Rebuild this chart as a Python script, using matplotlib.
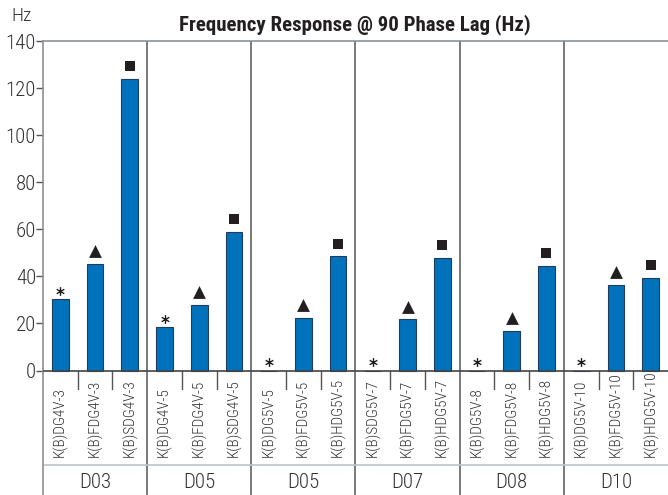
import matplotlib
matplotlib.use('Agg')
import matplotlib.pyplot as plt
import numpy as np
from matplotlib.path import Path
from matplotlib import font_manager as fm

# pick a condensed sans if one is available
installed = {f.name for f in fm.fontManager.ttflist}
narrow = [n for n in ['Roboto Condensed', 'Archivo Narrow', 'PT Sans Narrow',
                      'Fira Sans Condensed', 'Liberation Sans Narrow'] if n in installed]
plt.rcParams['font.family'] = narrow[:1] + ['DejaVu Sans']

# Data
groups = ['D03', 'D05', 'D05', 'D07', 'D08', 'D10']
models = ['K(B)DG4V-3', 'K(B)FDG4V-3', 'K(B)SDG4V-3',
          'K(B)DG4V-5', 'K(B)FDG4V-5', 'K(B)SDG4V-5',
          'K(B)DG5V-5', 'K(B)FDG5V-5', 'K(B)HDG5V-5',
          'K(B)SDG5V-7', 'K(B)FDG5V-7', 'K(B)HDG5V-7',
          'K(B)DG5V-8', 'K(B)FDG5V-8', 'K(B)HDG5V-8',
          'K(B)DG5V-10', 'K(B)FDG5V-10', 'K(B)HDG5V-10']
freq = [30.5, 45.5, 124,
        18.5, 28, 59,
        0, 22.5, 48.5,
        0, 22, 48,
        0, 17, 44.5,
        0, 36.5, 39.5]
marker_kind = ['star', 'tri', 'sq'] * 6
yticks = [0, 20, 40, 60, 80, 100, 120, 140]

bar_color = '#0072bc'
dark = '#231f20'
line_gray = '#8c9196'
text_col = '#333333'

fig = plt.figure(figsize=(6.68, 4.95), dpi=100)
# axes spans from plot top down to the bottom of the figure (label table inside)
ax = fig.add_axes([43 / 668, 0, 625 / 668, (495 - 41.3) / 495])

px_per_unit = (370.5 - 41.3) / 140
ybot = -(495 - 370.5) / px_per_unit
ax.set_ylim(ybot, 140)
ax.set_xlim(-0.5, len(models) - 0.5)

x = np.arange(len(models))
ax.bar(x, freq, width=0.48, color=bar_color, edgecolor='#1d3c5e', linewidth=0.8, zorder=3)

# markers above bars
freq_arr = np.array(freq)
kinds = np.array(marker_kind)
star = Path([(0, -1), (0, 1), (-0.866, -0.5), (0.866, 0.5), (-0.866, 0.5), (0.866, -0.5)],
            [Path.MOVETO, Path.LINETO, Path.MOVETO, Path.LINETO, Path.MOVETO, Path.LINETO])
m = kinds == 'star'
ax.scatter(x[m], freq_arr[m] + 3.5, marker=star, s=40, color=dark, linewidths=1.0, zorder=4)
m = kinds == 'tri'
ax.scatter(x[m], freq_arr[m] + 5.2, marker='^', s=85, color=dark, linewidths=0, zorder=4)
m = kinds == 'sq'
ax.scatter(x[m], freq_arr[m] + 5.4, marker='s', s=62, color=dark, linewidths=0, zorder=4)

# axis styling
ax.set_yticks(yticks)
ax.set_yticklabels([str(t) for t in yticks], fontsize=15, color=text_col, fontweight='light')
ax.tick_params(axis='y', direction='out', length=5, width=1, color='#555555', pad=0)
ax.set_xticks([])
ax.spines['right'].set_visible(False)
ax.spines['left'].set_color(line_gray)
ax.spines['left'].set_linewidth(1.2)
ax.spines['top'].set_color(line_gray)
ax.spines['top'].set_linewidth(1.2)
ax.spines['bottom'].set_color('#dddddd')

# zero line
ax.axhline(0, color='#444444', linewidth=1.2, zorder=5)

# separators
sep_len = 18 / px_per_unit
for i in range(1, len(models)):
    if i % 3 == 0:
        ax.plot([i - 0.5, i - 0.5], [ybot, 140], color='#555555', linewidth=1.1, zorder=2)
    else:
        ax.plot([i - 0.5, i - 0.5], [0, -sep_len], color='#555555', linewidth=1.0, zorder=2)

label_line = -(465 - 370.5) / px_per_unit
ax.axhline(label_line, color='#bfc3c7', linewidth=1.2)

# rotated model labels
lab_y = -(457 - 370.5) / px_per_unit
for xi, name in zip(x, models):
    ax.text(xi, lab_y, name, rotation=90, ha='center', va='bottom',
            fontsize=11, color=text_col, fontweight='light')

# group labels
grp_y = -(482 - 370.5) / px_per_unit
for gi, g in enumerate(groups):
    ax.text(gi * 3 + 1, grp_y, g, ha='center', va='center', fontsize=15,
            color=text_col, fontweight='light')

fig.text(355 / 668, 1 - 25 / 495, 'Frequency Response @ 90 Phase Lag (Hz)',
         ha='center', va='center', fontsize=15, fontweight='bold', color=dark)
fig.text(11 / 668, 1 - 16 / 495, 'Hz', ha='left', va='center', fontsize=14,
         color=text_col, fontweight='light')

fig.savefig('out.png', dpi=100)
